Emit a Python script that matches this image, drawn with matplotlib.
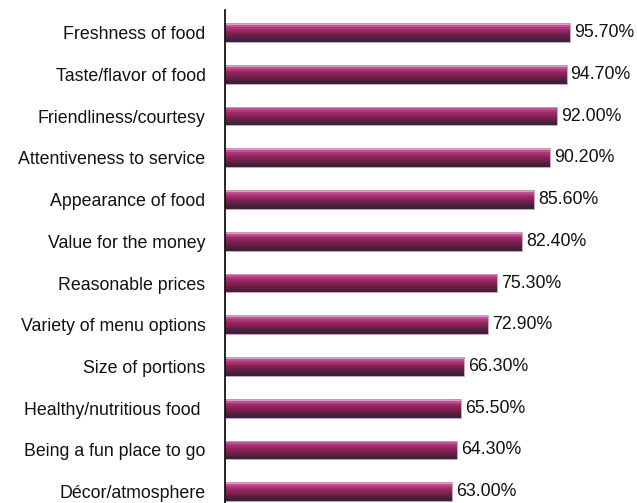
import matplotlib
matplotlib.use("Agg")
import matplotlib.pyplot as plt
import numpy as np

categories = [
    "Freshness of food",
    "Taste/flavor of food",
    "Friendliness/courtesy",
    "Attentiveness to service",
    "Appearance of food",
    "Value for the money",
    "Reasonable prices",
    "Variety of menu options",
    "Size of portions",
    "Healthy/nutritious food ",
    "Being a fun place to go",
    "Décor/atmosphere",
]
values = [95.7, 94.7, 92.0, 90.2, 85.6, 82.4, 75.3, 72.9, 66.3, 65.5, 64.3, 63.0]

# gradient stripes, top of bar to bottom
stripe_colors = ["#d8a0c8", "#c05090", "#ac387a", "#9c2c68", "#90245a",
                 "#821f4e", "#6e2048", "#582042", "#46203c", "#3a2038"]

fig = plt.figure(figsize=(6.37, 5.03), dpi=100)
ax = fig.add_axes([225 / 637, 0, 1 - 225 / 637, 1 - 10 / 503])

y = np.arange(len(categories))
bar_h = 0.45
n = len(stripe_colors)
sh = bar_h / n
for i, c in enumerate(stripe_colors):
    off = -bar_h / 2 + sh * (i + 0.5)
    ax.barh(y + off, values, height=sh * 1.02, color=c, linewidth=0)
ax.barh(y, values, height=bar_h, fill=False, edgecolor="#c890bc", linewidth=0.6)

for yi, v in zip(y, values):
    ax.text(v + 1.1, yi, f"{v:.2f}%", va="center", ha="left",
            fontsize=12.8, family="Liberation Sans", color="#111111")

ax.set_yticks(y)
ax.set_yticklabels(categories, fontsize=12.8, family="Liberation Sans",
                   color="#111111")
ax.tick_params(axis="y", length=0, pad=14)
ax.set_xticks([])
ax.set_xlim(0, 114.2)
ax.set_ylim(11.27, -0.54)
for s in ["top", "right", "bottom"]:
    ax.spines[s].set_visible(False)
ax.spines["left"].set_linewidth(1.2)

plt.savefig("out.png", dpi=100)
